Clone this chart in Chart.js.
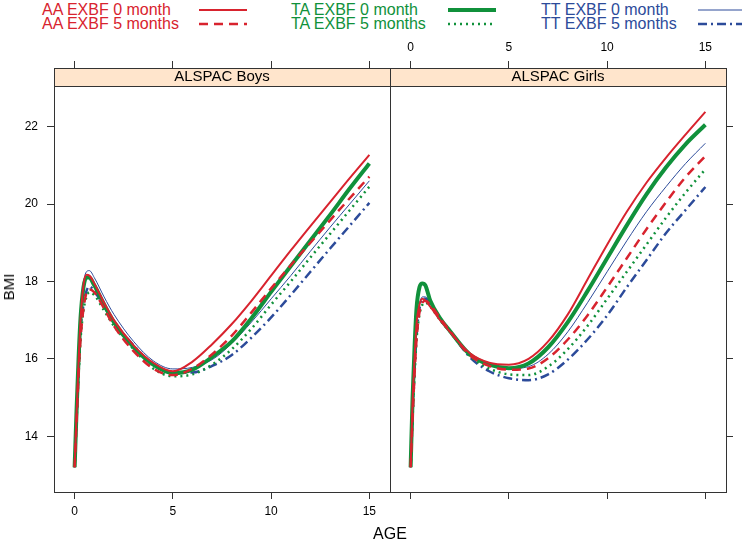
<!DOCTYPE html>
<html>
<head>
<meta charset="utf-8">
<script src="https://cdn.jsdelivr.net/npm/chart.js@4.4.1/dist/chart.umd.min.js"></script>
<style>
  html, body { margin: 0; padding: 0; background: #fff; }
  body { width: 742px; height: 543px; position: relative; overflow: hidden; font-family: 'Liberation Sans', Arial, sans-serif; }
  canvas { position: absolute; left: 0; top: 0; }
  .txt { position: absolute; white-space: nowrap; font-size: 16px; line-height: 16px; }
  #legendLines { position: absolute; left: 0; top: 0; }
</style>
</head>
<body>
<div id="legend"></div>
<svg id="legendLines" width="742" height="34"></svg>
<canvas id="boysChart" width="742" height="543"></canvas>
<canvas id="girlsChart" width="742" height="543"></canvas>
<div class="txt" id="ageLabel" style="left:390px; top:526px; transform:translateX(-50%);">AGE</div>
<div class="txt" id="bmiLabel" style="left:9px; top:287px; font-size:15px; transform:translate(-50%,-50%) rotate(-90deg);">BMI</div>
<script>
// ages (years) at which the curves are read
const ages = [0, 0.1, 0.2, 0.3, 0.45, 0.6, 0.75, 1, 1.5, 2, 3, 4, 5, 6, 7, 8, 9, 10, 11, 12, 13, 14, 15];
const xTicks = [0, 5, 10, 15];
const yTicks = [14, 16, 18, 20, 22];
const panelNames = ['ALSPAC Boys', 'ALSPAC Girls'];
const groupLabels = ['AA EXBF 0 month', 'AA EXBF 5 months', 'TA EXBF 0 month', 'TA EXBF 5 months', 'TT EXBF 0 month', 'TT EXBF 5 months'];

// BMI, boys
const boysAA0 = [13.2, 14.6, 15.9, 17.0, 17.9, 18.17, 18.15, 17.95, 17.45, 17.0, 16.35, 15.9, 15.68, 15.93, 16.38, 16.9, 17.5, 18.15, 18.8, 19.43, 20.05, 20.67, 21.27];
const boysAA5 = [13.2, 14.4, 15.6, 16.5, 17.3, 17.7, 17.8, 17.72, 17.3, 16.85, 16.2, 15.75, 15.58, 15.75, 16.12, 16.6, 17.2, 17.82, 18.42, 19.0, 19.58, 20.15, 20.71];
const boysTA0 = [13.2, 14.7, 16.0, 17.05, 17.85, 18.1, 18.1, 17.9, 17.4, 16.95, 16.3, 15.85, 15.63, 15.72, 16.05, 16.45, 17.05, 17.73, 18.4, 19.06, 19.72, 20.4, 21.05];
const boysTA5 = [13.2, 14.4, 15.6, 16.5, 17.25, 17.6, 17.72, 17.65, 17.25, 16.85, 16.25, 15.75, 15.55, 15.6, 15.85, 16.25, 16.78, 17.4, 18.0, 18.62, 19.23, 19.84, 20.45];
const boysTT0 = [13.2, 14.7, 16.0, 17.1, 17.95, 18.25, 18.28, 18.1, 17.6, 17.15, 16.45, 15.95, 15.74, 15.78, 15.98, 16.4, 16.95, 17.55, 18.15, 18.78, 19.4, 20.0, 20.6];
const boysTT5 = [13.2, 14.5, 15.7, 16.7, 17.4, 17.75, 17.87, 17.75, 17.35, 16.95, 16.35, 15.85, 15.65, 15.65, 15.82, 16.1, 16.55, 17.07, 17.65, 18.25, 18.85, 19.44, 20.03];

// BMI, girls
const girlsAA0 = [13.2, 14.9, 16.0, 16.9, 17.4, 17.55, 17.5, 17.35, 17.0, 16.7, 16.15, 15.9, 15.85, 16.0, 16.45, 17.15, 18.05, 18.95, 19.8, 20.55, 21.2, 21.8, 22.38];
const girlsAA5 = [13.2, 14.5, 15.6, 16.5, 17.2, 17.45, 17.5, 17.4, 17.05, 16.72, 16.1, 15.82, 15.72, 15.75, 16.02, 16.5, 17.12, 17.85, 18.6, 19.35, 20.05, 20.7, 21.24];
const girlsTA0 = [13.2, 15.0, 16.3, 17.3, 17.85, 17.95, 17.9, 17.5, 17.05, 16.72, 16.12, 15.85, 15.76, 15.88, 16.3, 16.95, 17.75, 18.6, 19.45, 20.25, 20.95, 21.55, 22.05];
const girlsTA5 = [13.2, 14.5, 15.6, 16.5, 17.15, 17.4, 17.45, 17.35, 17.0, 16.7, 16.08, 15.75, 15.6, 15.58, 15.8, 16.25, 16.85, 17.55, 18.25, 18.95, 19.65, 20.3, 20.9];
const girlsTT0 = [13.2, 14.8, 15.9, 16.8, 17.4, 17.6, 17.6, 17.45, 17.05, 16.72, 16.12, 15.85, 15.75, 15.8, 16.12, 16.7, 17.45, 18.25, 19.05, 19.8, 20.45, 21.05, 21.57];
const girlsTT5 = [13.2, 14.6, 15.7, 16.6, 17.3, 17.55, 17.55, 17.4, 17.05, 16.72, 16.05, 15.68, 15.5, 15.45, 15.6, 15.98, 16.5, 17.12, 17.85, 18.55, 19.25, 19.85, 20.44];

const RED = '#d8232e', GREEN = '#10913b', BLUE = '#2c4b9a';
const lineStyles = [
    { color: RED, width: 2, dash: [] },
    { color: RED, width: 2.5, dash: [9, 6] },
    { color: GREEN, width: 4, dash: [] },
    { color: GREEN, width: 2.5, dash: [2, 4] },
    { color: BLUE, width: 1, dash: [] },
    { color: BLUE, width: 2.5, dash: [9, 4, 2, 4] }
];

Chart.defaults.font.family = "'Liberation Sans', Arial, sans-serif";
Chart.defaults.color = '#000';

// Legend: three columns, text then a line sample
const legendCols = [42, 291, 541];
const legendRowTop = [2, 16];
const legendDiv = document.getElementById('legend');
const svg = document.getElementById('legendLines');
groupLabels.forEach((label, i) => {
    const col = Math.floor(i / 2), row = i % 2;
    const st = lineStyles[i];
    const d = document.createElement('div');
    d.className = 'txt';
    d.style.left = legendCols[col] + 'px';
    d.style.top = legendRowTop[row] + 'px';
    d.style.color = st.color;
    d.textContent = label;
    legendDiv.appendChild(d);
    const ln = document.createElementNS('http://www.w3.org/2000/svg', 'line');
    const x0 = legendCols[col] + 157;
    const y0 = legendRowTop[row] + 8;
    ln.setAttribute('x1', x0);
    ln.setAttribute('x2', x0 + 48);
    ln.setAttribute('y1', y0);
    ln.setAttribute('y2', y0);
    ln.setAttribute('stroke', st.color);
    ln.setAttribute('stroke-width', st.width);
    if (st.dash.length) ln.setAttribute('stroke-dasharray', st.dash.join(' '));
    svg.appendChild(ln);
});

// strip background + panel frame
const stripPlugin = {
    id: 'strip',
    beforeDraw(chart) {
        const t = chart.titleBlock, ctx = chart.ctx;
        ctx.save();
        ctx.fillStyle = '#ffe5cc';
        ctx.fillRect(t.left, t.top, t.right - t.left, t.bottom - t.top);
        ctx.restore();
    },
    afterDraw(chart) {
        const t = chart.titleBlock, a = chart.chartArea, ctx = chart.ctx;
        ctx.save();
        ctx.strokeStyle = '#333';
        ctx.lineWidth = 1;
        ctx.strokeRect(a.left + 0.5, t.top + 0.5, a.right - a.left, a.bottom - t.top);
        ctx.beginPath();
        ctx.moveTo(a.left, a.top + 0.5);
        ctx.lineTo(a.right, a.top + 0.5);
        ctx.stroke();
        ctx.restore();
    }
};

function makePanel(canvasId, name, series, isLeft) {
    const datasets = series.map((vals, i) => ({
        label: groupLabels[i],
        data: ages.map((a, k) => ({ x: a, y: vals[k] })),
        borderColor: lineStyles[i].color,
        borderWidth: lineStyles[i].width,
        borderDash: lineStyles[i].dash,
        pointRadius: 0,
        fill: false,
        cubicInterpolationMode: 'monotone',
        xAxisID: 'x',
        yAxisID: 'y'
    }));
    const grid = { drawOnChartArea: false, drawTicks: true, tickLength: 7, color: '#333', lineWidth: 1 };
    const ctx = document.getElementById(canvasId).getContext('2d');
    return new Chart(ctx, {
        type: 'line',
        data: { datasets: datasets },
        options: {
            responsive: false,
            animation: false,
            layout: { padding: isLeft ? { left: 0, right: 352, top: 35, bottom: 0 } : { left: 390, right: 0, top: 35, bottom: 0 } },
            scales: {
                x: {
                    type: 'linear', position: 'bottom', min: -1.05, max: 16.05,
                    afterBuildTicks: s => { s.ticks = xTicks.map(v => ({ value: v })); },
                    afterFit: s => { s.height = 51; },
                    grid: grid, border: { display: false },
                    ticks: { display: isLeft, font: { size: 12 }, padding: 5, maxRotation: 0 }
                },
                x2: {
                    type: 'linear', position: 'top', weight: 10, min: -1.05, max: 16.05,
                    afterBuildTicks: s => { s.ticks = xTicks.map(v => ({ value: v })); },
                    afterFit: s => { s.height = 33; },
                    grid: grid, border: { display: false },
                    ticks: { display: !isLeft, font: { size: 12 }, padding: 6, maxRotation: 0 }
                },
                y: {
                    type: 'linear', position: isLeft ? 'left' : 'right', min: 12.56, max: 23.05,
                    afterBuildTicks: s => { s.ticks = yTicks.map(v => ({ value: v })); },
                    afterFit: s => { s.width = isLeft ? 54 : 16; },
                    grid: grid, border: { display: false },
                    ticks: { display: isLeft, font: { size: 12 }, padding: 9 }
                }
            },
            plugins: {
                legend: { display: false },
                tooltip: { enabled: false },
                title: {
                    display: true, text: name, position: 'top', fullSize: false, weight: 1,
                    padding: 0, color: '#000', font: { size: 15, weight: 'normal', lineHeight: 1.2 }
                }
            }
        },
        plugins: [stripPlugin]
    });
}

makePanel('boysChart', panelNames[0], [boysAA0, boysAA5, boysTA0, boysTA5, boysTT0, boysTT5], true);
makePanel('girlsChart', panelNames[1], [girlsAA0, girlsAA5, girlsTA0, girlsTA5, girlsTT0, girlsTT5], false);
</script>
</body>
</html>
